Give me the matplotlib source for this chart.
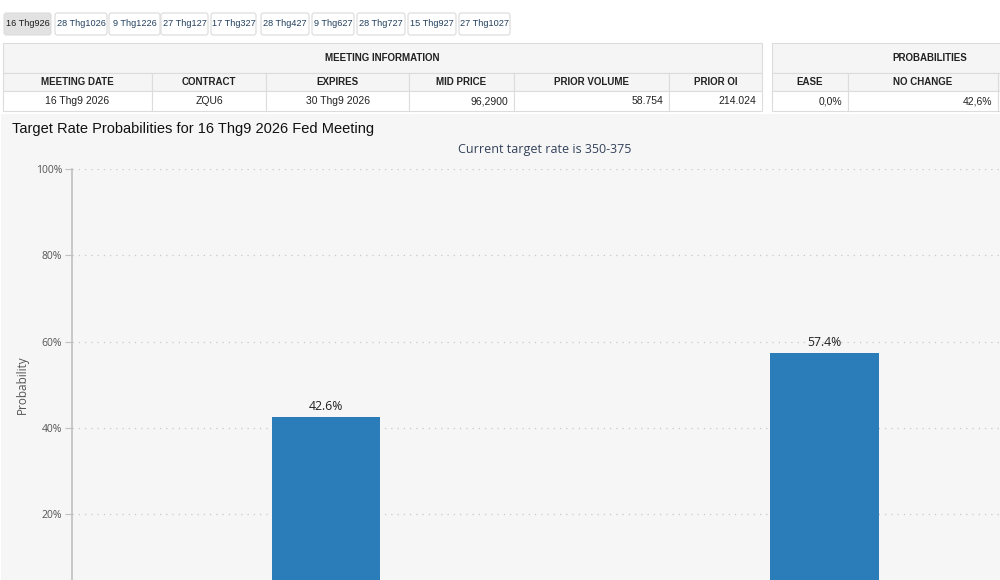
import matplotlib
matplotlib.use("Agg")
import matplotlib.pyplot as plt
from matplotlib.patches import Rectangle, FancyBboxPatch

# ---------------- data ----------------
tabs = ["16 Thg926", "28 Thg1026", "9 Thg1226", "27 Thg127", "17 Thg327",
        "28 Thg427", "9 Thg627", "28 Thg727", "15 Thg927", "27 Thg1027"]
info_group = "MEETING INFORMATION"
info_headers = ["MEETING DATE", "CONTRACT", "EXPIRES", "MID PRICE", "PRIOR VOLUME", "PRIOR OI"]
info_values = ["16 Thg9 2026", "ZQU6", "30 Thg9 2026", "96,2900", "58.754", "214.024"]
prob_group = "PROBABILITIES"
prob_headers = ["EASE", "NO CHANGE", ""]
prob_values = ["0,0%", "42,6%", ""]
title = "Target Rate Probabilities for 16 Thg9 2026 Fed Meeting"
subtitle = "Current target rate is 350-375"
categories = ["350-375", "375-400"]
probabilities = [42.6, 57.4]
yticks = [20, 40, 60, 80, 100]

# ---------------- styles ----------------
W, H = 1000, 580
fig = plt.figure(figsize=(W / 100, H / 100), dpi=100, facecolor="white")
ov = fig.add_axes([0, 0, 1, 1], zorder=0)
ov.set_xlim(0, W)
ov.set_ylim(H, 0)
ov.axis("off")

TF = "Liberation Sans"
CF = "Open Sans"
border = "#dcdcdc"

# tabs
tab_x = [(4, 51), (55, 107), (109, 160), (161, 208), (211, 256),
         (261, 309), (312, 354), (357, 405), (408, 456), (459, 510)]
for i, (lab, (x0, x1)) in enumerate(zip(tabs, tab_x)):
    sel = i == 0
    ov.add_patch(FancyBboxPatch((x0 + 1.5, 14.5), x1 - x0 - 3, 19,
                                boxstyle="round,pad=1.5,rounding_size=2.5",
                                facecolor="#e2e2e2" if sel else "white",
                                edgecolor="#dadada" if not sel else "#dcdcdc", lw=0.8))
    ov.text((x0 + x1) / 2, 24, lab, ha="center", va="center", fontsize=6.6,
            family=TF, color="#1a1a1a" if sel else "#22405f")

# tables
def table(cols, group, headers, values, aligns):
    x_left, x_right = cols[0], cols[-1]
    ov.add_patch(Rectangle((x_left, 43), x_right - x_left, 30, facecolor="#f5f5f5",
                           edgecolor=border, lw=0.8))
    gx = (x_left + x_right) / 2 if x_right < 1000 else 930
    ov.text(gx, 58, group, ha="center", va="center", fontsize=7, family=TF,
            weight="bold", color="#222222")
    for j in range(len(cols) - 1):
        a, b = cols[j], cols[j + 1]
        ov.add_patch(Rectangle((a, 73), b - a, 18, facecolor="#f5f5f5",
                               edgecolor=border, lw=0.8))
        ov.add_patch(Rectangle((a, 91), b - a, 20, facecolor="white",
                               edgecolor=border, lw=0.8))
        ov.text((a + b) / 2, 82, headers[j], ha="center", va="center", fontsize=7,
                family=TF, weight="bold", color="#222222")
        if aligns[j] == "center":
            ov.text((a + b) / 2, 101.5, values[j], ha="center", va="center",
                    fontsize=7.5, family=TF, color="#222222")
        else:
            ov.text(b - 6, 101.5, values[j], ha="right", va="center",
                    fontsize=7.5, family=TF, color="#222222")

table([3, 152, 266, 409, 514, 669, 762], info_group, info_headers, info_values,
      ["center", "center", "center", "right", "right", "right"])
table([772, 848, 998, 1060], prob_group, prob_headers, prob_values,
      ["right", "right", "right"])

# chart panel background
ov.add_patch(Rectangle((1, 114), 1005, 470, facecolor="#f6f6f6", edgecolor="none"))
ov.text(12, 129, title, ha="left", va="center", fontsize=10.5, family=TF, color="#111111")
ov.text(545, 150, subtitle, ha="center", va="center", fontsize=9, family=CF, color="#33425a")
ov.text(22, 385, "Probability", ha="center", va="center", rotation=90,
        fontsize=8.5, family=CF, color="#555555")

# chart axes
y0px, y100px = 600.25, 169
ax_left, ax_right = 72, 1000
ax = fig.add_axes([ax_left / W, (H - y0px) / H, (ax_right - ax_left) / W,
                   (y0px - y100px) / H], zorder=1)
ax.patch.set_alpha(0)
xs = list(range(len(categories)))
ax.bar(xs, probabilities, width=0.217, color="#2a7db8", zorder=3)
for x, v in zip(xs, probabilities):
    ax.text(x, v + 0.9, f"{v:.1f}%", ha="center", va="bottom", fontsize=8.8,
            family=CF, color="#222222")
ax.set_xlim(-0.5095, 1.352)
ax.set_ylim(0, 100)
ax.set_yticks(yticks)
ax.set_yticklabels([f"{t}%" for t in yticks], family=CF, fontsize=7.5, color="#555555")
ax.set_xticks(xs)
ax.tick_params(axis="x", labelbottom=False, length=0)
ax.yaxis.grid(True, linestyle=(0, (1, 4)), color="#c8c8c8", lw=0.9, zorder=0)
for s in ["top", "right", "bottom"]:
    ax.spines[s].set_visible(False)
ax.spines["left"].set_color("#c0c0c0")
ax.spines["left"].set_linewidth(1.2)
ax.tick_params(axis="y", length=5, color="#c0c0c0", pad=2)

fig.savefig("out.png", dpi=100, facecolor="white")
